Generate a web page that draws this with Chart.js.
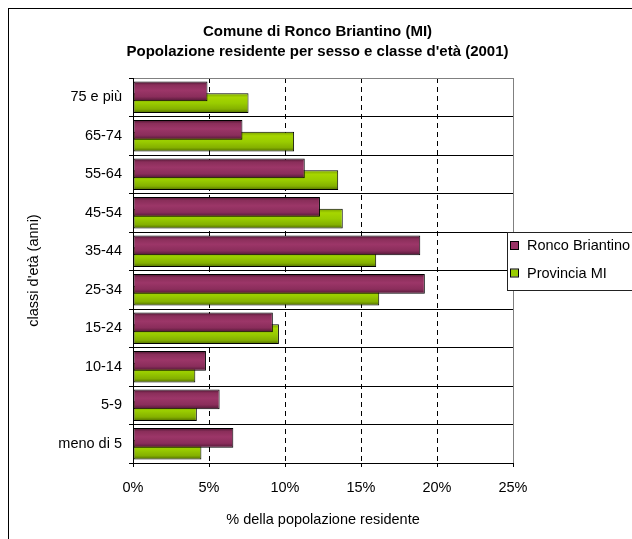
<!DOCTYPE html>
<html>
<head>
<meta charset="utf-8">
<script src="https://cdn.jsdelivr.net/npm/chart.js@4.4.0/dist/chart.umd.min.js"></script>
<style>
  html, body { margin: 0; padding: 0; overflow: hidden; background: #fff; }
  canvas { display: block; }
</style>
</head>
<body>
<canvas id="chart" width="635" height="560"></canvas>
<script>
// Age classes, top to bottom
const classiEta = ['75 e più', '65-74', '55-64', '45-54', '35-44', '25-34', '15-24', '10-14', '5-9', 'meno di 5'];
// Share of resident population (%)
const roncoBriantino = [4.9, 7.2, 11.3, 12.3, 18.9, 19.2, 9.2, 4.8, 5.7, 6.6];
const provinciaMI    = [7.6, 10.6, 13.5, 13.8, 16.0, 16.2, 9.6, 4.1, 4.2, 4.5];
// Value axis ticks (%)
const xTicks = [0, 5, 10, 15, 20, 25];

const FONT = "'Liberation Sans', Arial, sans-serif";
const CAT_PCT = 0.62;
const BAR_PCT = 1.65;

const PURPLE_STOPS = [[0, '#4a1530'], [0.18, '#8a2e5a'], [0.45, '#9c3668'], [0.78, '#8a2d5b'], [1, '#4f1734']];
const GREEN_STOPS  = [[0, '#7aa300'], [0.2, '#a6d600'], [0.5, '#99cc00'], [0.8, '#84b000'], [1, '#4c6800']];

// Vertical shading for each bar, computed from the category scale
function barShade(stops, flat) {
  return (ctx) => {
    if (ctx.type !== 'data') return flat;
    const chart = ctx.chart;
    const y = chart.scales.y;
    if (!y || !y.ticks || !y.ticks.length) return flat;
    const band = (y.bottom - y.top) / y.ticks.length;
    const center = y.getPixelForValue(ctx.dataIndex);
    const chunk = band * CAT_PCT / 2;
    const c = center + (ctx.datasetIndex === 0 ? -chunk / 2 : chunk / 2);
    const half = chunk * BAR_PCT / 2;
    if (!isFinite(c) || !isFinite(half)) return flat;
    const g = chart.ctx.createLinearGradient(0, c - half, 0, c + half);
    stops.forEach(([o, col]) => g.addColorStop(o, col));
    return g;
  };
}

// Outer frame of the chart
const framePlugin = {
  id: 'frame',
  beforeDraw(chart) {
    const c = chart.ctx;
    c.save();
    c.fillStyle = '#fff';
    c.fillRect(0, 0, chart.width, chart.height);
    c.strokeStyle = '#000';
    c.lineWidth = 1;
    c.strokeRect(8.5, 8.5, chart.width + 20, chart.height + 20);
    c.restore();
  },
  beforeDatasetsDraw(chart) {
    // grey right edge of the plot area
    const a = chart.chartArea;
    const c = chart.ctx;
    c.save();
    c.strokeStyle = '#808080';
    c.lineWidth = 1;
    c.beginPath();
    c.moveTo(Math.round(a.right) + 0.5, a.top);
    c.lineTo(Math.round(a.right) + 0.5, a.bottom);
    c.stroke();
    c.restore();
  }
};

// Boxed legend at the right side of the plot
const boxLegend = {
  id: 'boxLegend',
  afterDraw(chart) {
    const c = chart.ctx;
    const x = 507.5, y = 232.5, h = 58;
    c.save();
    c.fillStyle = '#fff';
    c.fillRect(x, y, chart.width, h);
    c.strokeStyle = '#222';
    c.lineWidth = 1;
    c.strokeRect(x, y, chart.width, h);
    const markerFill = ['#993366', '#99cc00'];
    const rows = [245.5, 273];
    c.font = '14.5px ' + FONT;
    c.textBaseline = 'middle';
    c.textAlign = 'left';
    chart.data.datasets.forEach((ds, i) => {
      const cy = rows[i];
      c.fillStyle = markerFill[i];
      c.fillRect(511, cy - 3.5, 7, 7);
      c.strokeStyle = '#000';
      c.strokeRect(510.5, cy - 4, 8, 8);
      c.fillStyle = '#000';
      c.fillText(ds.label, 527, cy + 0.5);
    });
    c.restore();
  }
};

Chart.defaults.color = '#000';
Chart.defaults.font.family = FONT;

new Chart(document.getElementById('chart'), {
  type: 'bar',
  data: {
    labels: classiEta,
    datasets: [
      {
        label: 'Ronco Briantino',
        data: roncoBriantino,
        backgroundColor: barShade(PURPLE_STOPS, '#993366'),
        borderColor: '#000',
        borderWidth: 1,
        borderSkipped: false
      },
      {
        label: 'Provincia MI',
        data: provinciaMI,
        backgroundColor: barShade(GREEN_STOPS, '#99cc00'),
        borderColor: '#000',
        borderWidth: 1,
        borderSkipped: false
      }
    ]
  },
  options: {
    indexAxis: 'y',
    responsive: false,
    animation: false,
    devicePixelRatio: 1,
    categoryPercentage: CAT_PCT,
    barPercentage: BAR_PCT,
    layout: { padding: 0 },
    plugins: {
      legend: { display: false },
      tooltip: { enabled: false },
      title: {
        display: true,
        text: ['Comune di Ronco Briantino (MI)', "Popolazione residente per sesso e classe d'età (2001)"],
        color: '#000',
        font: { family: FONT, size: 15, weight: 'bold', lineHeight: 20 / 15 },
        padding: { top: 22, bottom: 16 }
      }
    },
    scales: {
      x: {
        type: 'linear',
        min: 0,
        max: 25,
        afterBuildTicks: (s) => { s.ticks = xTicks.map(v => ({ value: v })); },
        afterFit: (s) => { s.height = 97; s.paddingRight = 122; },
        ticks: {
          callback: (v) => v + '%',
          font: { size: 14.5 },
          padding: 12,
          maxRotation: 0
        },
        grid: {
          color: (ctx) => (ctx.tick && (ctx.tick.value === 0 || ctx.tick.value === 25)) ? 'rgba(0,0,0,0)' : '#000',
          tickColor: '#000',
          tickLength: 4,
          tickBorderDash: []
        },
        border: { color: '#000', dash: [5, 4] },
        title: {
          display: true,
          text: '% della popolazione residente',
          font: { size: 14.5 },
          padding: { top: 0, bottom: 31 }
        }
      },
      y: {
        afterFit: (s) => { s.width = 133; },
        ticks: {
          font: { size: 14.5 },
          padding: 7
        },
        grid: {
          color: (ctx) => ctx.index === 0 ? '#808080' : '#000',
          tickColor: '#000',
          tickLength: 4
        },
        border: { color: '#000' },
        title: {
          display: true,
          text: "classi d'età (anni)",
          font: { size: 14.5 },
          padding: { top: 25, bottom: 0 }
        }
      }
    }
  },
  plugins: [framePlugin, boxLegend]
});
</script>
</body>
</html>
